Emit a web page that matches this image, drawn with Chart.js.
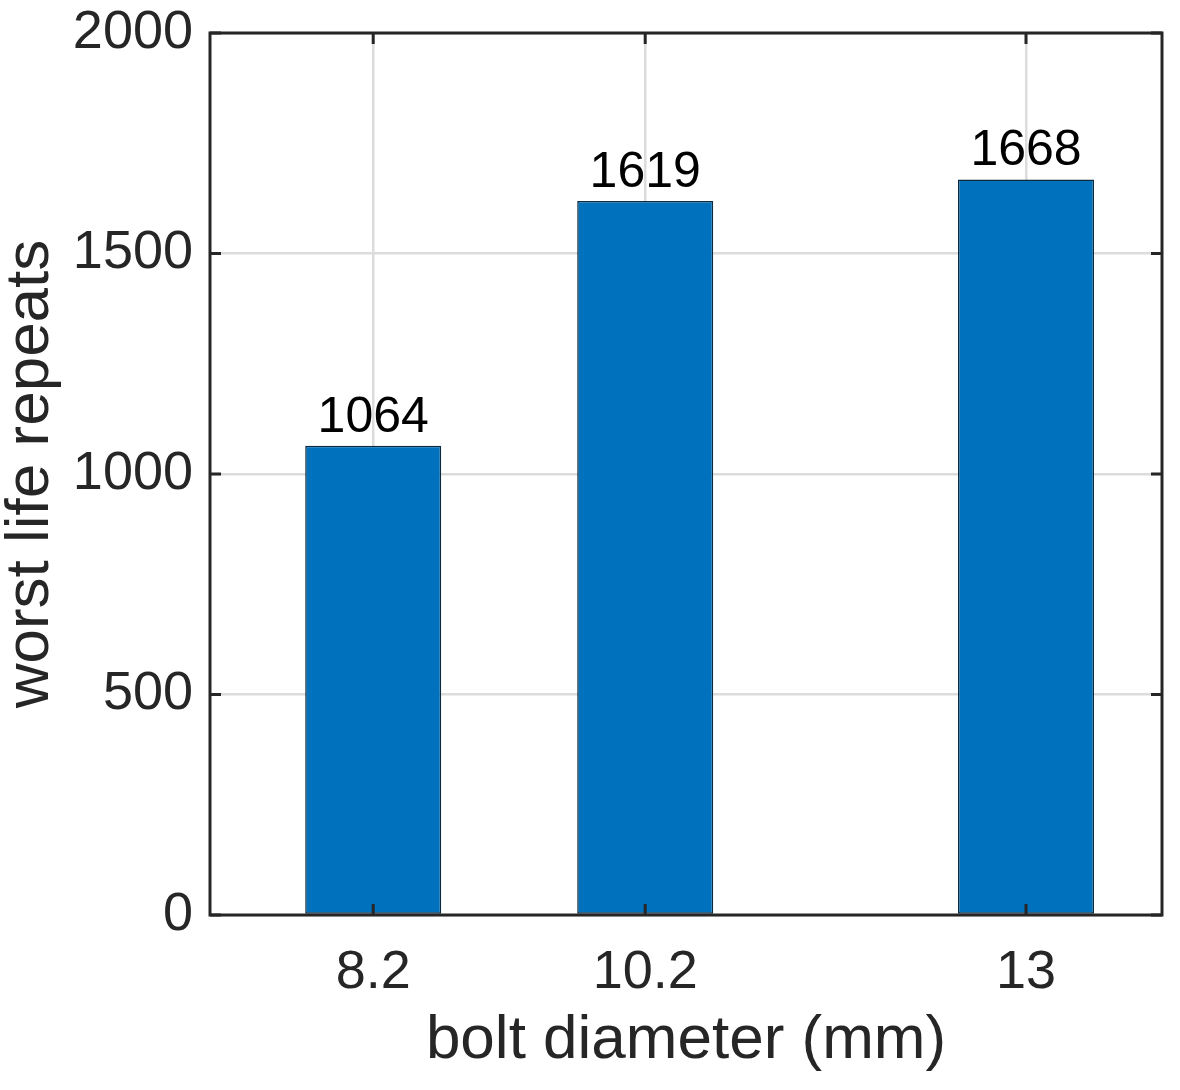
<!DOCTYPE html>
<html>
<head>
<meta charset="utf-8">
<script src="https://cdn.jsdelivr.net/npm/chart.js@4.4.1/dist/chart.umd.min.js"></script>
<style>
  html, body { margin: 0; padding: 0; background: #fff; }
  #wrap { width: 1180px; height: 1090px; }
</style>
</head>
<body>
<div id="wrap"><canvas id="barChart" width="1180" height="1090"></canvas></div>
<script>
// data
const diameters = [8.2, 10.2, 13];
const worstLife = [1064, 1619, 1668];
const xTickValues = [8.2, 10.2, 13];
const yTickValues = [0, 500, 1000, 1500, 2000];

const axisColor = "#262626";
const fontFamily = "'Liberation Sans', Arial, Helvetica, sans-serif";

// no extra room for half labels, the chart area is fixed by layout padding
const noPad = s => {
  s.paddingTop = 0; s.paddingBottom = 0;
  s.paddingLeft = 0; s.paddingRight = 0;
};

// frame, inward ticks on all four sides and value labels over the bars
const framePlugin = {
  id: "frame",
  afterDatasetsDraw(chart) {
    const { ctx, chartArea: a, scales: { x, y } } = chart;
    const tick = 11;
    ctx.save();
    ctx.strokeStyle = axisColor;
    ctx.lineWidth = 3;
    ctx.beginPath();
    xTickValues.forEach(v => {
      const px = x.getPixelForValue(v);
      ctx.moveTo(px, a.bottom); ctx.lineTo(px, a.bottom - tick);
      ctx.moveTo(px, a.top); ctx.lineTo(px, a.top + tick);
    });
    yTickValues.forEach(v => {
      const py = y.getPixelForValue(v);
      ctx.moveTo(a.left, py); ctx.lineTo(a.left + tick, py);
      ctx.moveTo(a.right, py); ctx.lineTo(a.right - tick, py);
    });
    ctx.stroke();
    ctx.strokeRect(a.left, a.top, a.right - a.left, a.bottom - a.top);

    ctx.fillStyle = "#000";
    ctx.font = "50px " + fontFamily;
    ctx.textAlign = "center";
    ctx.textBaseline = "bottom";
    chart.getDatasetMeta(0).data.forEach((bar, i) => {
      ctx.fillText(String(worstLife[i]), bar.x, bar.y - 3);
    });
    ctx.restore();
  }
};

new Chart(document.getElementById("barChart").getContext("2d"), {
  type: "bar",
  data: {
    datasets: [{
      data: diameters.map((d, i) => ({ x: d, y: worstLife[i] })),
      backgroundColor: "#0072BD",
      borderColor: "#0a2a40",
      borderWidth: 1.5,
      borderSkipped: false,
      categoryPercentage: 1,
      barPercentage: 0.5
    }]
  },
  options: {
    responsive: false,
    animation: false,
    devicePixelRatio: 1,
    layout: { padding: { top: 33, right: 18, left: 0, bottom: 0 } },
    plugins: {
      legend: { display: false },
      tooltip: { enabled: false }
    },
    scales: {
      x: {
        type: "linear",
        min: 7,
        max: 14,
        offset: false,
        afterBuildTicks: s => { s.ticks = xTickValues.map(v => ({ value: v })); },
        afterFit: s => { s.height = 175; noPad(s); },
        ticks: {
          color: axisColor,
          font: { family: fontFamily, size: 54 },
          padding: 26,
          maxRotation: 0,
          autoSkip: false,
          callback: v => String(v)
        },
        grid: { color: "#dcdcdc", lineWidth: 2.5, drawTicks: false, offset: false },
        border: { display: false },
        title: {
          display: true,
          text: "bolt diameter (mm)",
          color: axisColor,
          font: { family: fontFamily, size: 62, lineHeight: 1.2 },
          padding: { top: 0, bottom: 12 }
        }
      },
      y: {
        min: 0,
        max: 2000,
        afterBuildTicks: s => { s.ticks = yTickValues.map(v => ({ value: v })); },
        afterFit: s => { s.width = 210; noPad(s); },
        ticks: {
          color: axisColor,
          font: { family: fontFamily, size: 54 },
          padding: 17,
          callback: v => String(v)
        },
        grid: { color: "#dcdcdc", lineWidth: 2.5, drawTicks: false },
        border: { display: false },
        title: {
          display: true,
          text: "worst life repeats",
          color: axisColor,
          font: { family: fontFamily, size: 62, lineHeight: 1 },
          padding: 0
        }
      }
    }
  },
  plugins: [framePlugin]
});
</script>
</body>
</html>
